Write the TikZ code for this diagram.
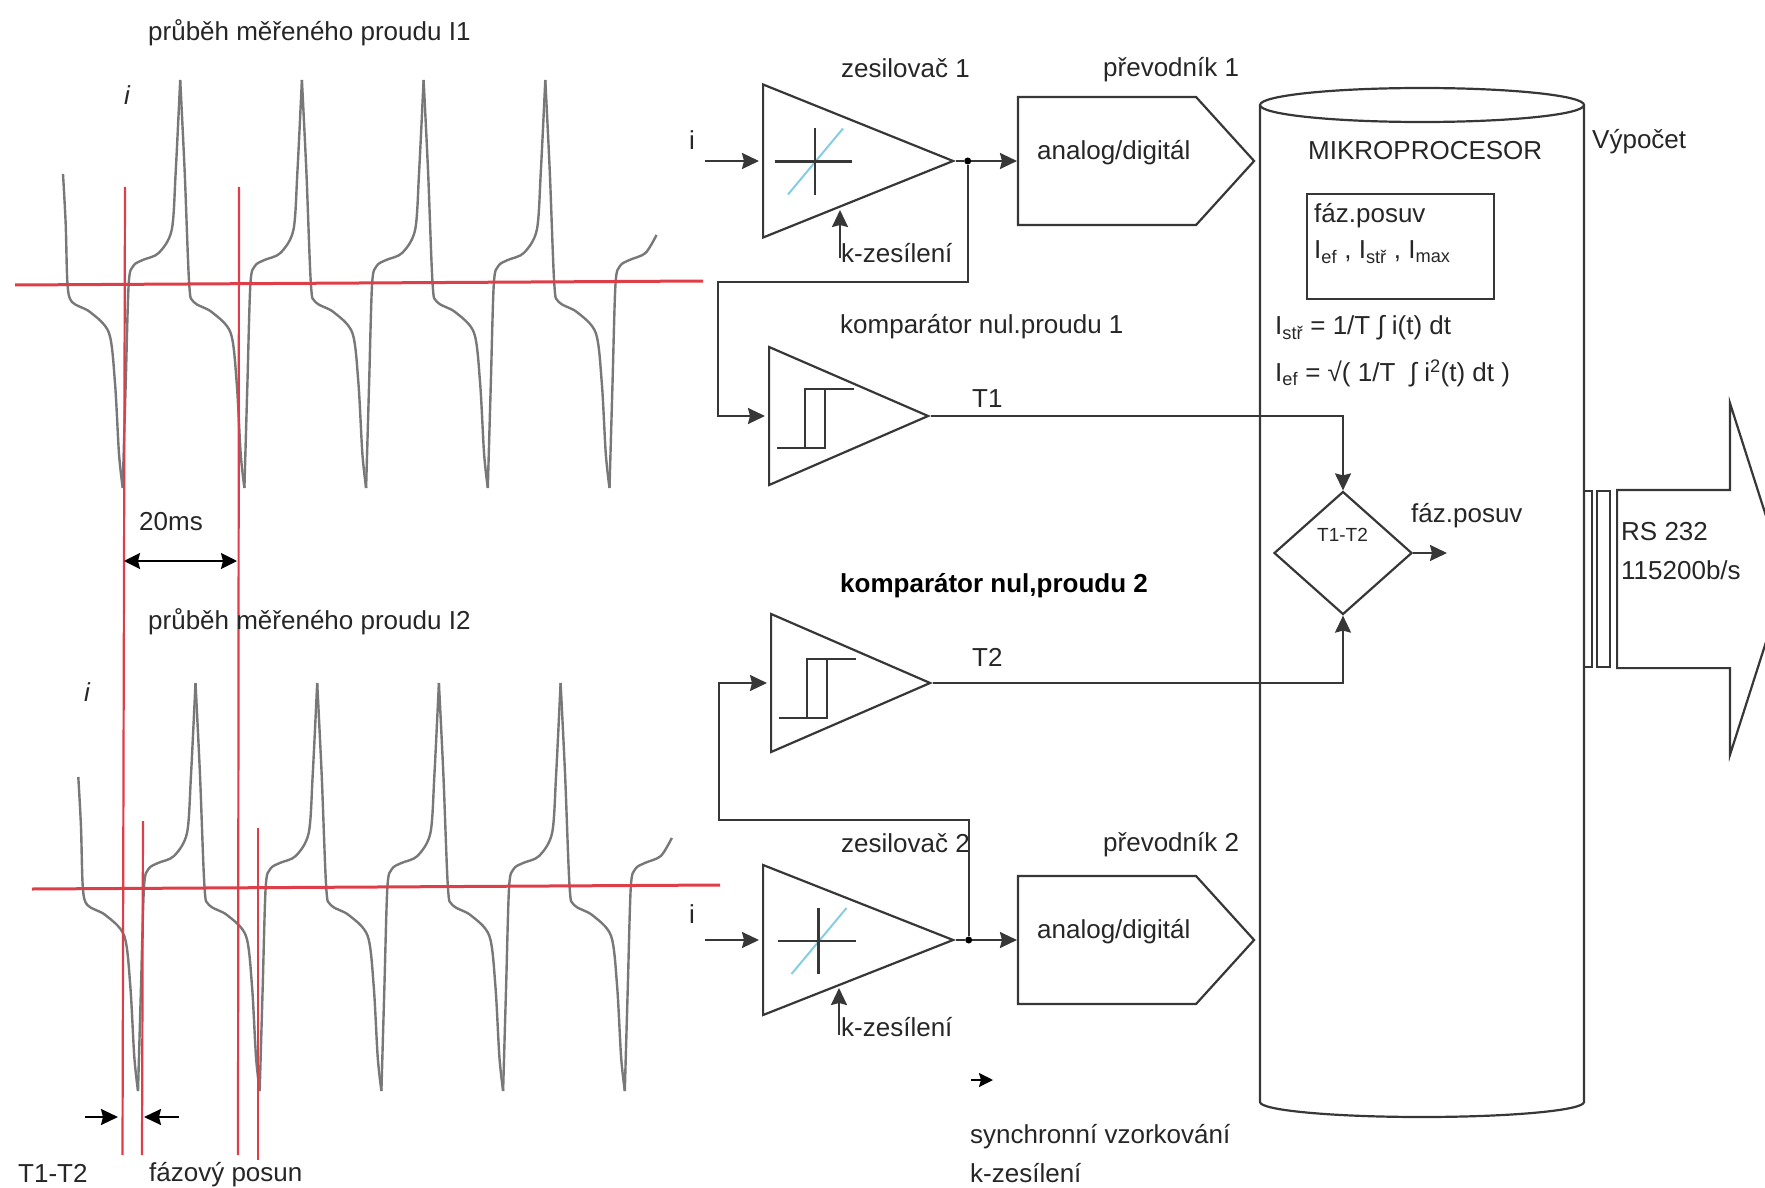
\documentclass[tikz,border=0pt]{standalone}
\usepackage{fontspec}
\setmainfont{Liberation Sans}
\usepackage{xcolor}
\usepackage{tikz}
\usetikzlibrary{arrows.meta,shapes.geometric,shapes.symbols,shapes.arrows,positioning,calc}
\definecolor{inkgray}  {RGB}{55,55,55}
\definecolor{wavegray} {RGB}{120,120,120}
\definecolor{zerored}  {RGB}{222,62,72}
\definecolor{gainblue} {RGB}{135,205,225}
\tikzset{
  lbl/.style    ={font=\fontsize{26}{31}\selectfont, text=black!85, inner sep=0pt, anchor=west},
  boldlbl/.style={lbl, font=\fontsize{26}{31}\selectfont\bfseries, text=black},
  ln/.style     ={draw=inkgray, line width=2.2pt},
  arr/.style    ={ln, -{Stealth[length=17pt,width=16pt,inset=2pt]}, shorten >=3pt},
  darr/.style   ={line width=2.2pt, draw=black, {Stealth[length=16pt,width=16pt,inset=2pt]}-{Stealth[length=16pt,width=16pt,inset=2pt]}},
  ampbox/.style ={ln, isosceles triangle, isosceles triangle stretches, inner sep=0pt,
                  minimum width=#1, anchor=west},
  adcbox/.style ={ln, signal, signal to=east, signal pointer angle=95.6, inner sep=0pt,
                  minimum width=236pt, minimum height=128pt},
  dotnode/.style={circle, fill=black, inner sep=0pt, minimum size=7pt},
  redline/.style={draw=zerored, line width=2.2pt},
  wavelin/.style={draw=wavegray, line width=2.4pt, line join=round},
  plate/.style  ={ln, inner sep=0pt, minimum width=10pt, minimum height=176pt},
  curvewave/.pic={
    \draw[wavelin] plot[smooth,tension=.5] coordinates
      {(-59.7,-110)(-57,-60)(-55.2,0)(-50.7,18)(-32.7,28)(-13.7,49)(-7.7,99)(-3.7,170)(0,204)};
    \foreach \k in {0,...,3}{
      \begin{scope}[xshift={\k*121.7pt}]
        \draw[wavelin] plot[smooth,tension=.5] coordinates
          {(0,204)(3,100)(6,0)(10.5,-18)(20,-24)(36,-31)(49,-54)(53,-112)(57.5,-204)};
        \draw[wavelin] plot[smooth,tension=.5] coordinates
          {(57.5,-204)(62,-112)(66.5,0)(71,18)(89,28)(108,49)(114,99)(118,170)(121.7,204)};
      \end{scope}
    }
    \draw[wavelin, xshift=486.8pt] plot[smooth,tension=.5] coordinates
      {(0,204)(3,100)(6,0)(10.5,-18)(20,-24)(36,-31)(47,-49)};
  },
  gaincross/.pic={
    \draw[gainblue, line width=2pt] (-27,33) -- (28,-33);
    \draw[ln] (-40.5,0) -- (37,0);
    \draw[ln] (0,-33) -- (0,33);
  },
  hyster/.pic={
    \draw[ln] (-28,30) -- (20,30) -- (20,-29);
    \draw[ln] (0,30) -- (0,-29) -- (49,-29);
  },
}

\begin{document}
\begin{tikzpicture}[x=1pt,y=-1pt]
  \clip (0,0) rectangle (1765,1188);

  % measured curves
  \pic at (122.7,284) {curvewave};
  \pic at (138,887) {curvewave};
  \draw[redline, line width=3pt] (15,285) -- (703,281);
  \draw[redline, line width=3pt] (32,889) -- (720,885);
  \draw[redline] (125,187) -- (122.5,1155);
  \draw[redline] (239,187) -- (238,1155);
  \draw[redline] (143,821) -- (142,1155);
  \draw[redline] (258,828) -- (258,1160);

  \node[lbl] (tit1) at (148,33) {průběh měřeného proudu I1};
  \node[lbl] (tit2) at (148,622) {průběh měřeného proudu I2};
  \node[lbl, font=\fontsize{26}{31}\selectfont\itshape] (ii1) at (124,95) {i};
  \node[lbl, font=\fontsize{26}{31}\selectfont\itshape] (ii2) at (84,692) {i};

  \coordinate (ms1) at (124,561);
  \coordinate (ms2) at (237,561);
  \draw[darr] (ms1) -- (ms2);
  \node[lbl] (ms) at (139,522) {20ms};

  \coordinate (ph1) at (85,1117);
  \coordinate (ph2) at (179,1117);
  \draw[arr, draw=black, shorten >=0pt] (ph1) -- ++(33,0);
  \draw[arr, draw=black, shorten >=0pt] (ph2) -- ++(-35,0);
  \node[lbl] (dt) at (18,1173) {T1-T2};
  \node[lbl] (fp) at (149,1175) {fázový posun};

  % channel 1
  \node[ampbox=153pt, minimum height=190pt] (amp1) at (762,161) {};
  \pic at (815,161.5) {gaincross};
  \node[dotnode, right=8pt of amp1.apex] (dot1) {};
  \node[adcbox, right=61pt of amp1.apex] (adc1) {};
  \node[lbl, right=20pt of adc1.west, anchor=west, yshift=8pt] (adt1) {analog/digitál};
  \node[lbl] (zes1) at (841,68) {zesilovač 1};
  \node[lbl] (pre1) at (1103,70) {převodník 1};
  \node[lbl] (ki1) at (841,253) {k-zesílení};
  \node[lbl] (in1) at (689,140) {i};
  \coordinate (src1) at (705,161);
  \coordinate (kk1) at (840,258);

  \node[ampbox=138pt, minimum height=159pt] (cmp1) at (768,416) {};
  \pic at (805,418) {hyster};
  \node[lbl] (ncmp1) at (840,327) {komparátor nul.proudu 1};
  \node[lbl] (t1) at (972,399) {T1};

  % channel 2
  \node[ampbox=150pt, minimum height=190pt] (amp2) at (762,940) {};
  \pic at (818.5,941) {gaincross};
  \node[dotnode, right=9pt of amp2.apex] (dot2) {};
  \node[adcbox, right=61pt of amp2.apex] (adc2) {};
  \node[lbl, right=20pt of adc2.west, anchor=west, yshift=8pt] (adt2) {analog/digitál};
  \node[lbl] (zes2) at (841,843) {zesilovač 2};
  \node[lbl] (pre2) at (1103,845) {převodník 2};
  \node[lbl] (ki2) at (841,1027) {k-zesílení};
  \node[lbl] (in2) at (689,914) {i};
  \coordinate (src2) at (705,940);
  \coordinate (kk2) at (839,1035);

  \node[ampbox=138pt, minimum height=159pt] (cmp2) at (770,683) {};
  \pic at (807,688) {hyster};
  \node[boldlbl] (ncmp2) at (840,586) {komparátor nul,proudu 2};
  \node[lbl] (t2) at (972,657) {T2};

  % processor
  \draw[ln] (1422,105) ellipse [x radius=162pt, y radius=17pt];
  \draw[ln] (1260,105) -- (1260,1102) arc[start angle=180, end angle=360, x radius=162pt, y radius=15pt] -- (1584,105);
  \node[lbl] (ncpu) at (1308,151) {MIKROPROCESOR};
  \node[lbl] (calc) at (1592,142) {Výpočet};
  \node[ln, inner sep=0pt, minimum width=187pt, minimum height=105pt] (res) at (1400.5,246.5) {};
  \node[lbl] (res1) at (1314,216) {fáz.posuv};
  \node[lbl] (res2) at (1314,252) {I\textsubscript{ef} , I\textsubscript{stř} , I\textsubscript{max}};
  \node[lbl] (form1) at (1275,328) {I\textsubscript{stř} = 1/T ∫ i(t) dt};
  \node[lbl] (form2) at (1275,373) {I\textsubscript{ef} = √( 1/T \ ∫ i\textsuperscript{2}(t) dt )};
  \node[ln, diamond, shape aspect=1.12, inner sep=0pt, minimum width=138pt, minimum height=123pt] (diff) at (1343,553) {};
  \node[lbl, font=\fontsize{19}{23}\selectfont] (ndiff) at (1317,535) {T1-T2};
  \node[lbl] (fp2) at (1411,516) {fáz.posuv};
  \coordinate (fpo) at (1447,553);

  % serial link
  \node[plate, minimum width=8pt] (pl1) at (1588,579) {};
  \node[plate, minimum width=13pt] (pl2) at (1603.5,579) {};
  \node[ln, single arrow, inner xsep=0pt, inner ysep=88pt, single arrow head extend=87pt,
        single arrow tip angle=144.6, minimum height=169pt, anchor=tail] (rs) at (1616,579) {};
  \node[lbl] (rs1) at (1621,532) {RS 232};
  \node[lbl] (rs2) at (1621,570) {115200b/s};

  % sampling note
  \coordinate (syn) at (971,1080);
  \draw[arr, draw=black, shorten >=0pt, -{Stealth[length=14pt,width=14pt,inset=2pt]}] (syn) -- ++(22,0);
  \node[lbl] (syn1) at (970,1137) {synchronní vzorkování};
  \node[lbl] (syn2) at (970,1173) {k-zesílení};

  \draw[arr] (src1) -- (amp1.west);
  \draw[arr] (src2) -- (amp2.west);
  \draw[arr] (kk1) -- ++(0,-51);
  \draw[arr] (kk2) -- ++(0,-50);
  \draw[ln] (amp1.apex) -- (dot1);
  \draw[ln] (amp2.apex) -- (dot2);
  \draw[arr, shorten >=0pt] (dot1) -- (adc1);
  \draw[arr, shorten >=0pt] (dot2) -- (adc2);
  \draw[arr] (dot1) -- ++(0,121) -- ++(-250,0) |- (cmp1.west);
  \draw[arr] (dot2) -- ++(0,-120) -- ++(-250,0) |- (cmp2.west);
  \draw[arr, shorten >=0pt] (cmp1.apex) -| (diff.north);
  \draw[arr, shorten >=0pt] (cmp2.apex) -| (diff.south);
  \draw[arr, shorten >=0pt] (diff.east) -- (fpo);
\end{tikzpicture}
\end{document}
